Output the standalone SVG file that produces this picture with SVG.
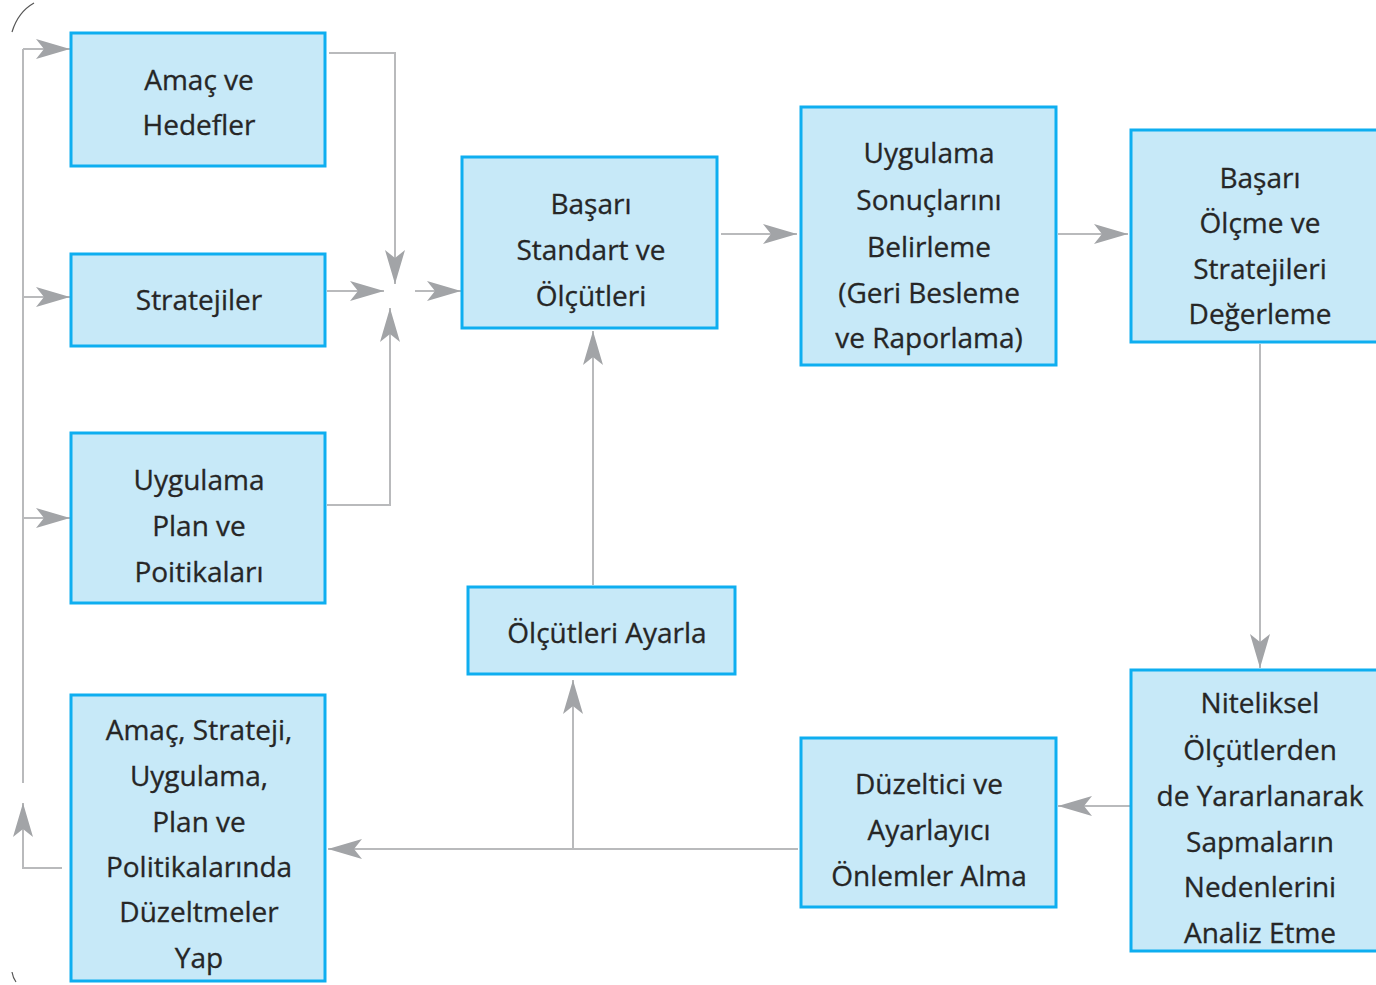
<svg xmlns="http://www.w3.org/2000/svg" width="1376" height="985" viewBox="0 0 1376 985">
<style>
.box{fill:#c7e9f8;stroke:#0eaef0;stroke-width:3}
.t{font-family:"Open Sans","Liberation Sans",sans-serif;font-size:28px;fill:#262626;text-anchor:middle;stroke:#262626;stroke-width:0.3}
.c{fill:none;stroke:#b9babc;stroke-width:2}
.a{marker-end:url(#ah)}
</style>
<defs>
<marker id="ah" markerWidth="36" markerHeight="24" refX="34" refY="12" orient="auto" markerUnits="userSpaceOnUse" viewBox="0 0 36 24">
<path d="M0,2 L34,12 L0,22 L8,12 Z" fill="#a2a4a7"/>
</marker>
</defs>
<rect width="1376" height="985" fill="#fff"/>
<path d="M12,32 Q18,12 34,3" fill="none" stroke="#555" stroke-width="1.2"/>
<path d="M12,972 Q13,978 16,982" fill="none" stroke="#555" stroke-width="1.2"/>
<g id="connectors">
<path class="c a" d="M62,868 H23 V803"/>
<path class="c" d="M23,783 V49"/>
<path class="c a" d="M23,49 H70"/>
<path class="c a" d="M23,297 H70"/>
<path class="c a" d="M23,518 H70"/>
<path class="c a" d="M329,53 H395 V284"/>
<path class="c a" d="M327,291 H384"/>
<path class="c a" d="M327,505 H390 V308"/>
<path class="c a" d="M415,291 H461"/>
<path class="c a" d="M721,234 H797"/>
<path class="c a" d="M1058,234 H1128"/>
<path class="c a" d="M1260,344 V668"/>
<path class="c a" d="M1130,806 H1058"/>
<path class="c a" d="M798,849 H328"/>
<path class="c a" d="M573,849 V680"/>
<path class="c a" d="M593,585 V331"/>
</g>
<g id="n1"><rect class="box" x="71" y="33" width="254" height="133"/>
<text class="t" x="199" y="90">Amaç ve</text><text class="t" x="199" y="135">Hedefler</text></g>
<g id="n2"><rect class="box" x="71" y="254" width="254" height="92"/>
<text class="t" x="199" y="310">Stratejiler</text></g>
<g id="n3"><rect class="box" x="71" y="433" width="254" height="170"/>
<text class="t" x="199" y="490">Uygulama</text><text class="t" x="199" y="536">Plan ve</text><text class="t" x="199" y="582">Poitikaları</text></g>
<g id="n4"><rect class="box" x="71" y="695" width="254" height="286"/>
<text class="t" x="199" y="740">Amaç, Strateji,</text><text class="t" x="199" y="786">Uygulama,</text><text class="t" x="199" y="832">Plan ve</text><text class="t" x="199" y="877">Politikalarında</text><text class="t" x="199" y="922">Düzeltmeler</text><text class="t" x="199" y="968">Yap</text></g>
<g id="n5"><rect class="box" x="462" y="157" width="255" height="171"/>
<text class="t" x="591" y="214">Başarı</text><text class="t" x="591" y="260">Standart ve</text><text class="t" x="591" y="306">Ölçütleri</text></g>
<g id="n6"><rect class="box" x="801" y="107" width="255" height="258"/>
<text class="t" x="929" y="163">Uygulama</text><text class="t" x="929" y="210">Sonuçlarını</text><text class="t" x="929" y="257">Belirleme</text><text class="t" x="929" y="303">(Geri Besleme</text><text class="t" x="929" y="348">ve Raporlama)</text></g>
<g id="n7"><rect class="box" x="1131" y="130" width="260" height="212"/>
<text class="t" x="1260" y="188">Başarı</text><text class="t" x="1260" y="233">Ölçme ve</text><text class="t" x="1260" y="279">Stratejileri</text><text class="t" x="1260" y="324">Değerleme</text></g>
<g id="n8"><rect class="box" x="1131" y="670" width="260" height="281"/>
<text class="t" x="1260" y="713">Niteliksel</text><text class="t" x="1260" y="760">Ölçütlerden</text><text class="t" x="1260" y="806">de Yararlanarak</text><text class="t" x="1260" y="852">Sapmaların</text><text class="t" x="1260" y="897">Nedenlerini</text><text class="t" x="1260" y="943">Analiz Etme</text></g>
<g id="n9"><rect class="box" x="801" y="738" width="255" height="169"/>
<text class="t" x="929" y="794">Düzeltici ve</text><text class="t" x="929" y="840">Ayarlayıcı</text><text class="t" x="929" y="886">Önlemler Alma</text></g>
<g id="n10"><rect class="box" x="468" y="587" width="267" height="87"/>
<text class="t" x="607" y="643">Ölçütleri Ayarla</text></g>
</svg>
